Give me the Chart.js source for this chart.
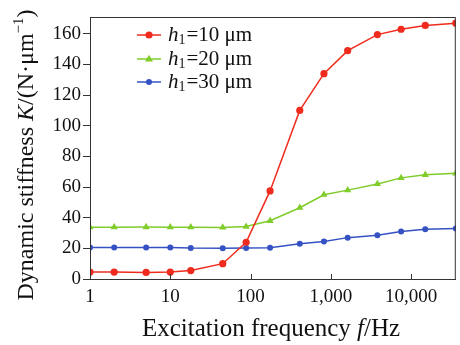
<!DOCTYPE html>
<html>
<head>
<meta charset="utf-8">
<script src="https://cdn.jsdelivr.net/npm/chart.js@4"></script>
<style>
  html, body { margin: 0; padding: 0; background: #fff; }
  #wrap { width: 460px; height: 345px; }
</style>
</head>
<body>
<div id="wrap"><canvas id="stiffChart"></canvas></div>
<script>
// values
const freqs = [1, 2, 5, 10, 18, 45, 88, 175, 410, 820, 1620, 3800, 7500, 15000, 36000];
const k10 = [4.5, 4.5, 4.3, 4.5, 5.5, 10, 24, 57.5, 110, 134, 149, 159.5, 163, 165.5, 167];
const k20 = [33.8, 33.8, 33.9, 33.8, 33.8, 33.6, 34.2, 38, 46.5, 55, 58, 62, 66, 68, 69];
const k30 = [20.5, 20.5, 20.5, 20.6, 20.2, 20.1, 20.2, 20.4, 23, 24.5, 27, 28.5, 31, 32.5, 33];
const legendText = ['=10 \u03bcm', '=20 \u03bcm', '=30 \u03bcm'];
const xTicks = [1, 10, 100, 1000, 10000];
const yTicks = [0, 20, 40, 60, 80, 100, 120, 140, 160];

const RED = '#ee2b1c', GREEN = '#7fcc2a', BLUE = '#3552c4';
const AXIS = '#333';
const SERIF = "'Liberation Serif', 'DejaVu Serif', serif";

function mark(ctx, style, x, y, r, color) {
  ctx.fillStyle = color;
  ctx.beginPath();
  if (style === 'triangle') {
    ctx.moveTo(x, y - r);
    ctx.lineTo(x + r * 0.95, y + r * 0.6);
    ctx.lineTo(x - r * 0.95, y + r * 0.6);
    ctx.closePath();
  } else {
    ctx.arc(x, y, r, 0, Math.PI * 2);
  }
  ctx.fill();
}

// frame, inward x ticks, axis titles and legend
const decorPlugin = {
  id: 'decor',
  afterDraw(chart) {
    const { ctx, chartArea: { left, right, top, bottom }, scales: { x } } = chart;
    ctx.save();
    ctx.strokeStyle = AXIS;
    ctx.lineWidth = 1;
    ctx.strokeRect(left + 0.5, top + 0.5, right - left - 1, bottom - top);

    xTicks.forEach(v => {
      const px = Math.round(x.getPixelForValue(v)) + 0.5;
      ctx.beginPath();
      ctx.moveTo(px, bottom);
      ctx.lineTo(px, bottom - 5);
      ctx.stroke();
    });

    // x title
    ctx.fillStyle = '#111';
    ctx.textBaseline = 'alphabetic';
    const p1 = 'Excitation frequency ', p2 = 'f', p3 = '/Hz';
    ctx.font = '25px ' + SERIF;
    const w1 = ctx.measureText(p1).width, w3 = ctx.measureText(p3).width;
    ctx.font = 'italic 25px ' + SERIF;
    const w2 = ctx.measureText(p2).width;
    let sx = 271 - (w1 + w2 + w3) / 2;
    ctx.font = '25px ' + SERIF; ctx.fillText(p1, sx, 336); sx += w1;
    ctx.font = 'italic 25px ' + SERIF; ctx.fillText(p2, sx, 336); sx += w2;
    ctx.font = '25px ' + SERIF; ctx.fillText(p3, sx, 336);

    // y title (rotated)
    ctx.save();
    ctx.translate(33, 155);
    ctx.rotate(-Math.PI / 2);
    const parts = [
      ['Dynamic stiffness ', '24px', 0],
      ['K', 'italic 24px', 0],
      ['/(N\u00b7\u03bcm', '24px', 0],
      ['\u22121', '15px', -10],
      [')', '24px', 0]
    ];
    let tw = 0;
    parts.forEach(p => { ctx.font = p[1] + ' ' + SERIF; p.w = ctx.measureText(p[0]).width; tw += p.w; });
    let ty = -tw / 2;
    parts.forEach(p => { ctx.font = p[1] + ' ' + SERIF; ctx.fillText(p[0], ty, p[2]); ty += p.w; });
    ctx.restore();

    // legend
    const rows = [[RED, 'circle', 3.6, 35], [GREEN, 'triangle', 4.2, 59], [BLUE, 'circle', 3, 82]];
    rows.forEach((r, i) => {
      const [col, style, rad, cy] = r;
      ctx.strokeStyle = col;
      ctx.lineWidth = 1.5;
      ctx.beginPath();
      ctx.moveTo(137, cy);
      ctx.lineTo(161, cy);
      ctx.stroke();
      mark(ctx, style, 149, cy, rad, col);
      ctx.fillStyle = '#111';
      ctx.textBaseline = 'middle';
      let lx = 168;
      ctx.font = 'italic 21px ' + SERIF;
      ctx.fillText('h', lx, cy);
      lx += ctx.measureText('h').width;
      ctx.font = '14px ' + SERIF;
      ctx.fillText('1', lx, cy + 5);
      lx += ctx.measureText('1').width + 1;
      ctx.font = '21px ' + SERIF;
      ctx.fillText(legendText[i], lx, cy);
    });
    ctx.restore();
  }
};

function series(label, vals, color, style, radius) {
  return {
    label,
    data: freqs.map((f, i) => ({ x: f, y: vals[i] })),
    borderColor: color,
    backgroundColor: color,
    borderWidth: 1.5,
    pointStyle: style,
    pointRadius: radius,
    pointBorderWidth: 0,
    pointHoverRadius: radius,
    tension: 0
  };
}

new Chart(document.getElementById('stiffChart'), {
  type: 'line',
  data: {
    datasets: [
      series('h1=10 \u03bcm', k10, RED, 'circle', 3.6),
      series('h1=20 \u03bcm', k20, GREEN, 'triangle', 4.2),
      series('h1=30 \u03bcm', k30, BLUE, 'circle', 3)
    ]
  },
  options: {
    responsive: true,
    maintainAspectRatio: false,
    animation: false,
    layout: { padding: { top: 17, right: 1, left: 0, bottom: 0 } },
    plugins: { legend: { display: false }, tooltip: { enabled: false } },
    scales: {
      x: {
        type: 'logarithmic',
        min: 1,
        max: 36000,
        afterBuildTicks: s => { s.ticks = xTicks.map(v => ({ value: v })); },
        afterFit: s => { s.height = 66; },
        grid: { drawOnChartArea: false, drawTicks: false },
        border: { color: AXIS },
        ticks: {
          autoSkip: false,
          maxRotation: 0,
          padding: 7,
          color: '#111',
          font: { family: SERIF, size: 19 },
          callback: v => Number(v).toLocaleString('en-US')
        }
      },
      y: {
        min: 0,
        max: 171,
        afterBuildTicks: s => { s.ticks = yTicks.map(v => ({ value: v })); },
        afterFit: s => { s.width = 90; },
        grid: { drawOnChartArea: false, tickLength: 7, color: AXIS },
        border: { color: AXIS },
        ticks: {
          padding: 2,
          color: '#111',
          font: { family: SERIF, size: 19 }
        }
      }
    }
  },
  plugins: [decorPlugin]
});
</script>
</body>
</html>
